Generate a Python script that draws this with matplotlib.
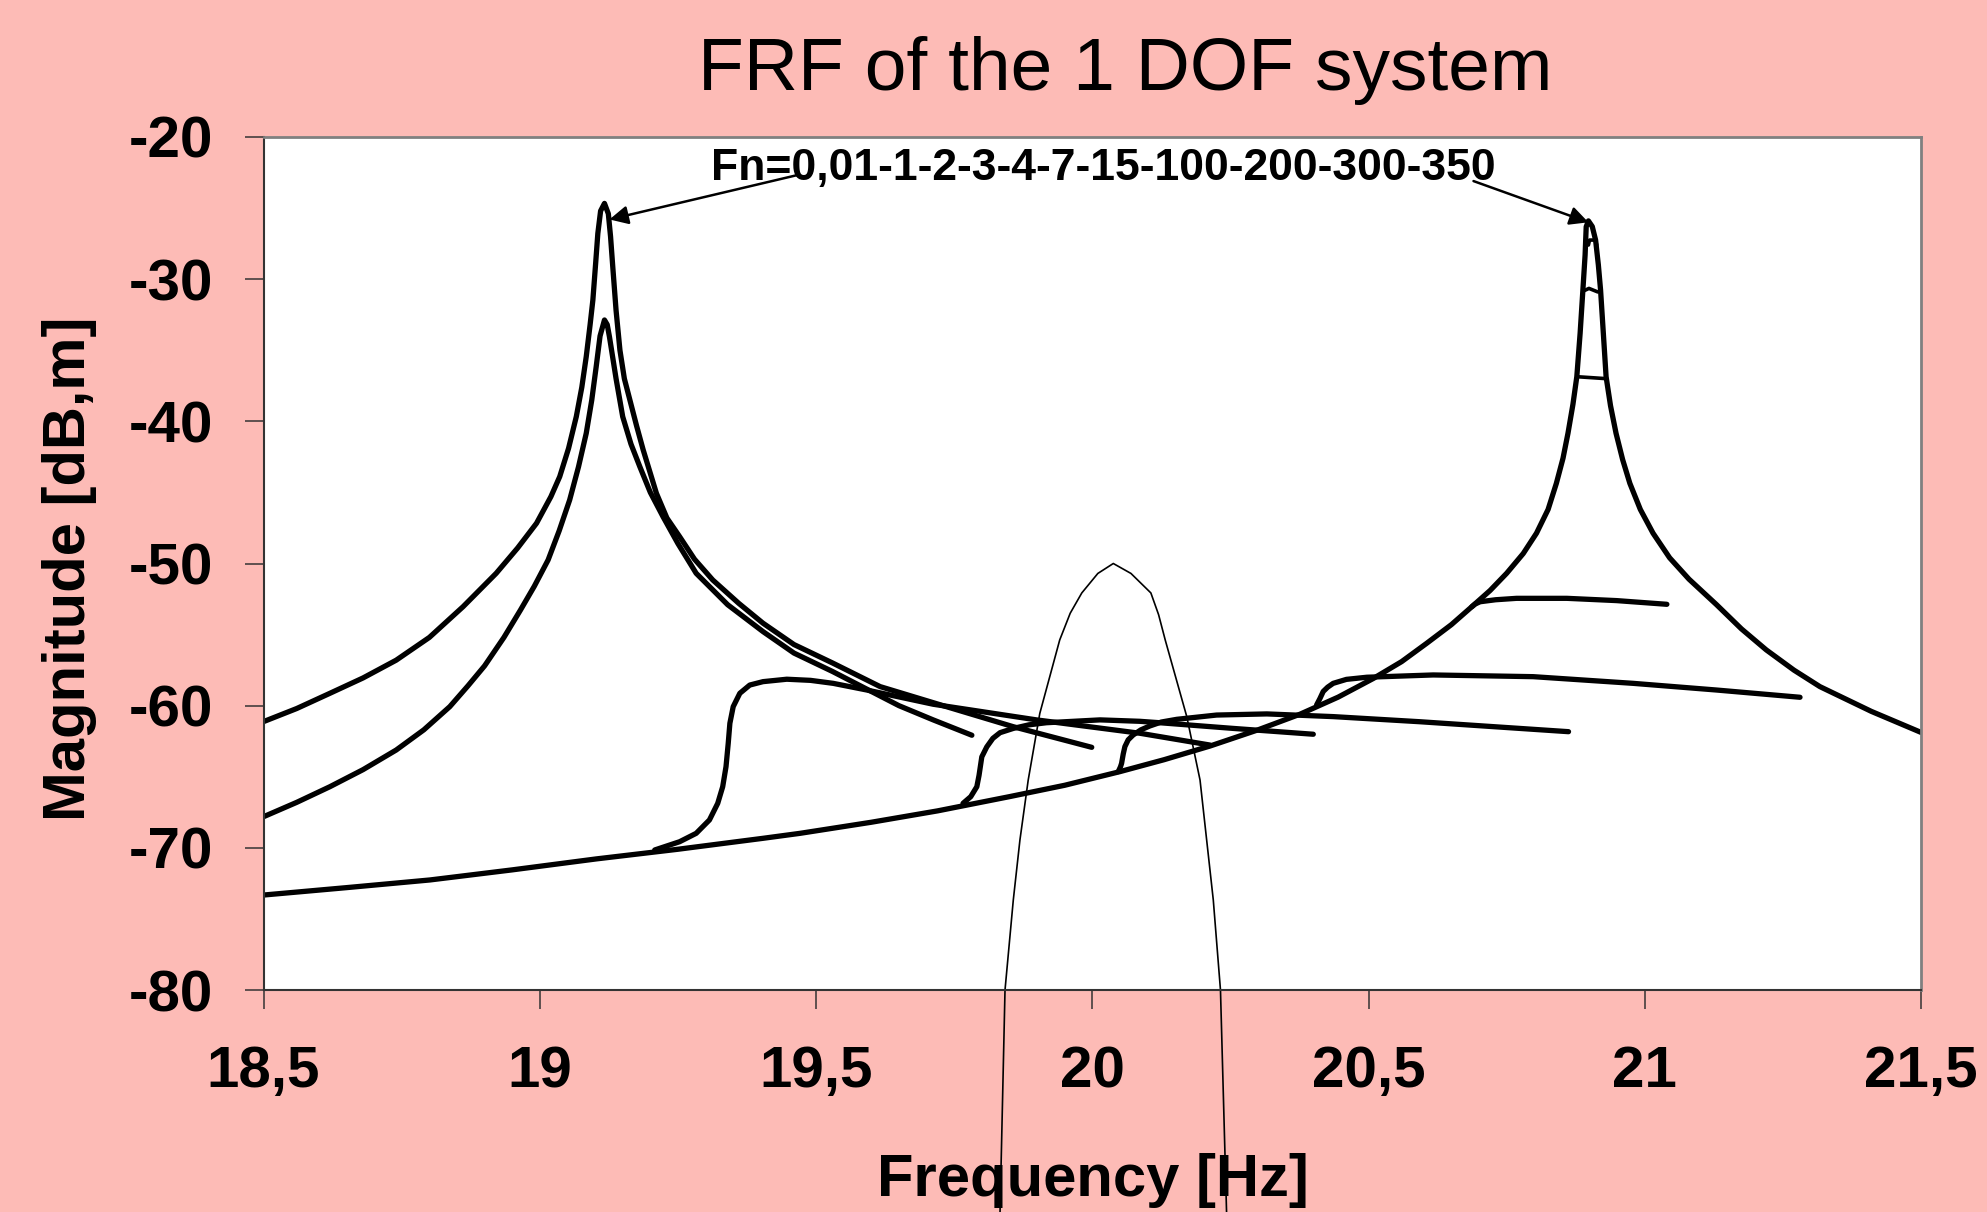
import matplotlib
matplotlib.use("Agg")
import matplotlib.pyplot as plt

plt.rcParams['font.family'] = ['Liberation Sans', 'DejaVu Sans']

# ---------------- data ----------------
title = "FRF of the 1 DOF system"
xlabel = "Frequency [Hz]"
ylabel = "Magnitude [dB,m]"
annot_text = "Fn=0,01-1-2-3-4-7-15-100-200-300-350"

x_ticks = [18.5, 19.0, 19.5, 20.0, 20.5, 21.0, 21.5]
x_tick_labels = ["18,5", "19", "19,5", "20", "20,5", "21", "21,5"]
y_ticks = [-80, -70, -60, -50, -40, -30, -20]
y_tick_labels = ["-80", "-70", "-60", "-50", "-40", "-30", "-20"]

# left peak, outer curve
lp_outer_x = [18.5, 18.56, 18.62, 18.68, 18.74, 18.8, 18.861, 18.921, 18.96, 18.994,
              19.02, 19.036, 19.052, 19.066, 19.076, 19.084, 19.091, 19.096, 19.101,
              19.105, 19.11, 19.117, 19.124, 19.128, 19.132, 19.138, 19.145, 19.153,
              19.163, 19.175, 19.187, 19.211, 19.23, 19.253, 19.28, 19.313, 19.36,
              19.404, 19.46, 19.53, 19.616, 19.736, 19.857, 19.999]
lp_outer_y = [-61.12, -60.2, -59.13, -58.05, -56.8, -55.2, -53.04, -50.69, -48.9, -47.17,
              -45.3, -43.89, -41.9, -39.67, -37.6, -35.45, -33.2, -31.47, -28.9,
              -26.78, -25.2, -24.67, -25.4, -27.0, -29.12, -32.2, -35.0, -37.0,
              -38.5, -40.3, -42.0, -45.06, -46.8, -48.11, -49.7, -51.16, -52.8,
              -54.2, -55.7, -57.0, -58.66, -60.07, -61.48, -62.93]

# left peak, inner curve
lp_inner_x = [18.5, 18.56, 18.62, 18.68, 18.74, 18.79, 18.837, 18.87, 18.9, 18.935,
              18.965, 18.99, 19.015, 19.035, 19.054, 19.07, 19.084, 19.094, 19.102,
              19.109, 19.117, 19.122, 19.126, 19.138, 19.15, 19.165, 19.181, 19.2,
              19.223, 19.25, 19.283, 19.34, 19.404, 19.46, 19.53, 19.6, 19.65,
              19.712, 19.782]
lp_inner_y = [-67.81, -66.8, -65.7, -64.5, -63.12, -61.7, -60.07, -58.6, -57.2, -55.2,
              -53.27, -51.6, -49.75, -47.7, -45.53, -43.2, -40.84, -38.5, -36.16,
              -34.0, -32.87, -33.2, -34.05, -37.0, -39.67, -41.6, -43.19, -45.0,
              -46.71, -48.6, -50.69, -52.9, -54.79, -56.3, -57.6, -59.0, -60.0,
              -61.0, -62.08]

# right peak, full-range curve
rp_x = [18.5, 18.65, 18.801, 18.95, 19.102, 19.25, 19.404, 19.471, 19.6, 19.72, 19.85,
        19.95, 20.05, 20.13, 20.213, 20.3, 20.376, 20.445, 20.509, 20.56, 20.605, 20.65,
        20.687, 20.72, 20.75, 20.78, 20.804, 20.825, 20.84, 20.852, 20.861, 20.87, 20.877,
        20.883, 20.888, 20.892, 20.894, 20.898, 20.905, 20.911, 20.916, 20.92, 20.925,
        20.93, 20.938, 20.948, 20.96, 20.973, 20.992, 21.015, 21.045, 21.08, 21.13,
        21.175, 21.22, 21.27, 21.317, 21.41, 21.5]
rp_y = [-73.32, -72.8, -72.26, -71.55, -70.78, -70.1, -69.33, -68.98, -68.2, -67.4, -66.4,
        -65.6, -64.64, -63.8, -62.84, -61.7, -60.6, -59.4, -58.08, -56.9, -55.62, -54.3,
        -53.04, -51.9, -50.69, -49.3, -47.87, -46.2, -44.36, -42.6, -40.84, -38.8, -36.86,
        -33.8, -30.76, -28.3, -26.31, -25.9, -26.3, -27.25, -29.0, -30.76, -33.8,
        -36.86, -38.9, -40.84, -42.7, -44.36, -46.2, -47.87, -49.6, -51.1, -52.9,
        -54.6, -56.08, -57.5, -58.66, -60.4, -61.88]

# jump curves
c1_x = [19.208, 19.253, 19.283, 19.307, 19.322, 19.331, 19.337, 19.341, 19.344, 19.35,
        19.362, 19.38, 19.404, 19.447, 19.49, 19.531, 19.592, 19.712, 19.899, 20.086, 20.213]
c1_y = [-70.15, -69.57, -68.98, -68.04, -66.87, -65.7, -64.29, -62.65, -61.24, -60.07,
        -59.13, -58.55, -58.31, -58.14, -58.22, -58.43, -58.9, -59.9, -61.0, -61.94, -62.77]

c2_x = [19.766, 19.78, 19.791, 19.795, 19.8, 19.809, 19.82, 19.833, 19.857, 19.885,
        19.917, 20.014, 20.086, 20.122, 20.255, 20.4]
c2_y = [-66.87, -66.4, -65.7, -64.9, -63.6, -62.9, -62.3, -61.9, -61.6, -61.35,
        -61.2, -61.0, -61.1, -61.2, -61.6, -62.01]

c3_x = [20.047, 20.051, 20.053, 20.056, 20.059, 20.065, 20.074, 20.088, 20.104, 20.125,
        20.153, 20.225, 20.316, 20.436, 20.593, 20.862]
c3_y = [-64.64, -64.3, -64.06, -63.4, -62.88, -62.4, -62.06, -61.7, -61.43, -61.15,
        -60.96, -60.66, -60.58, -60.77, -61.13, -61.83]

c4_x = [20.406, 20.412, 20.418, 20.426, 20.436, 20.46, 20.497, 20.617, 20.798, 20.979,
        21.13, 21.281]
c4_y = [-59.95, -59.5, -59.0, -58.7, -58.43, -58.15, -58.0, -57.84, -57.96, -58.43,
        -58.9, -59.41]

c5_x = [20.687, 20.693, 20.702, 20.73, 20.768, 20.859, 20.949, 21.04]
c5_y = [-53.04, -52.85, -52.69, -52.55, -52.45, -52.45, -52.61, -52.87]

c6_x = [20.877, 20.931]
c6_y = [-36.86, -37.0]

c7_x = [20.888, 20.899, 20.915]
c7_y = [-30.85, -30.65, -30.9]

c8_x = [20.898, 20.9, 20.911, 20.913]
c8_y = [-27.6, -27.25, -27.25, -27.6]

# thin bell-shaped curve
bell_x = [19.833, 19.842, 19.857, 19.869, 19.884, 19.905, 19.941, 19.96, 19.981, 20.01,
          20.038, 20.07, 20.106, 20.12, 20.132, 20.171, 20.195, 20.207, 20.219, 20.232,
          20.243]
bell_y = [-95.6, -80.0, -73.67, -69.45, -65.23, -60.54, -55.38, -53.5, -52.07, -50.7,
          -50.0, -50.7, -52.07, -53.6, -55.38, -60.77, -65.23, -69.45, -73.67, -80.0,
          -95.6]

# annotation positions (data coordinates)
annot_xy = (20.02, -22.2)
arrow_left_tail = (19.467, -22.67)
arrow_left_head = (19.126, -25.8)
arrow_right_tail = (20.69, -23.1)
arrow_right_head = (20.898, -26.0)

# ---------------- styling ----------------
BG = '#FDBBB6'
W, H = 1987, 1212
fig = plt.figure(figsize=(W / 100, H / 100), dpi=100, facecolor=BG)
ax = fig.add_axes([263.6 / W, 1 - 990 / H, (1921 - 263.6) / W, (990 - 137) / H])
ax.set_facecolor('white')

thick = dict(color='black', lw=3.8, solid_capstyle='round', solid_joinstyle='round')
for xs, ys in [(rp_x, rp_y), (lp_outer_x, lp_outer_y), (lp_inner_x, lp_inner_y),
               (c1_x, c1_y), (c2_x, c2_y), (c3_x, c3_y), (c4_x, c4_y), (c5_x, c5_y)]:
    ax.plot(xs, ys, **thick)
ax.plot(c6_x, c6_y, color='black', lw=2.6, solid_capstyle='round')
ax.plot(c7_x, c7_y, color='black', lw=2.6, solid_capstyle='round')
ax.plot(c8_x, c8_y, color='black', lw=2.6, solid_capstyle='round')
ax.plot(bell_x, bell_y, color='black', lw=1.2, clip_on=False)

ax.set_xlim(18.5, 21.5)
ax.set_ylim(-80, -20)
ax.set_xticks(x_ticks)
ax.set_xticklabels(x_tick_labels)
ax.set_yticks(y_ticks)
ax.set_yticklabels(y_tick_labels)
ax.tick_params(axis='both', direction='out', length=13.7, width=1.1, colors='#333333',
               labelcolor='black', labelsize=42)
ax.tick_params(axis='x', pad=26)
ax.tick_params(axis='y', pad=23)
for lab in ax.get_xticklabels() + ax.get_yticklabels():
    lab.set_fontweight('bold')

for side in ['left', 'bottom']:
    ax.spines[side].set_color('#333333')
    ax.spines[side].set_linewidth(1.5)
for side in ['top', 'right']:
    ax.spines[side].set_color('#808080')
    ax.spines[side].set_linewidth(2.0)

# annotation text and arrows
ax.text(annot_xy[0], annot_xy[1], annot_text, ha='center', va='center',
        fontsize=32, fontweight='bold')
ap = dict(arrowstyle='-|>', color='black', lw=1.8, mutation_scale=28,
          shrinkA=0, shrinkB=0)
ax.annotate('', xy=arrow_left_head, xytext=arrow_left_tail, arrowprops=ap)
ax.annotate('', xy=arrow_right_head, xytext=arrow_right_tail, arrowprops=ap)

# titles / labels
fig.text(1125 / W, 1 - 90 / H, title, ha='center', va='baseline', fontsize=54)
fig.text(1093 / W, 1 - 1196 / H, xlabel, ha='center', va='baseline',
         fontsize=43, fontweight='bold')
fig.text(70 / W, 1 - 569 / H, ylabel, ha='center', va='center', rotation=90,
         fontsize=43, fontweight='bold')

fig.savefig('out.png', dpi=100, facecolor=BG)
